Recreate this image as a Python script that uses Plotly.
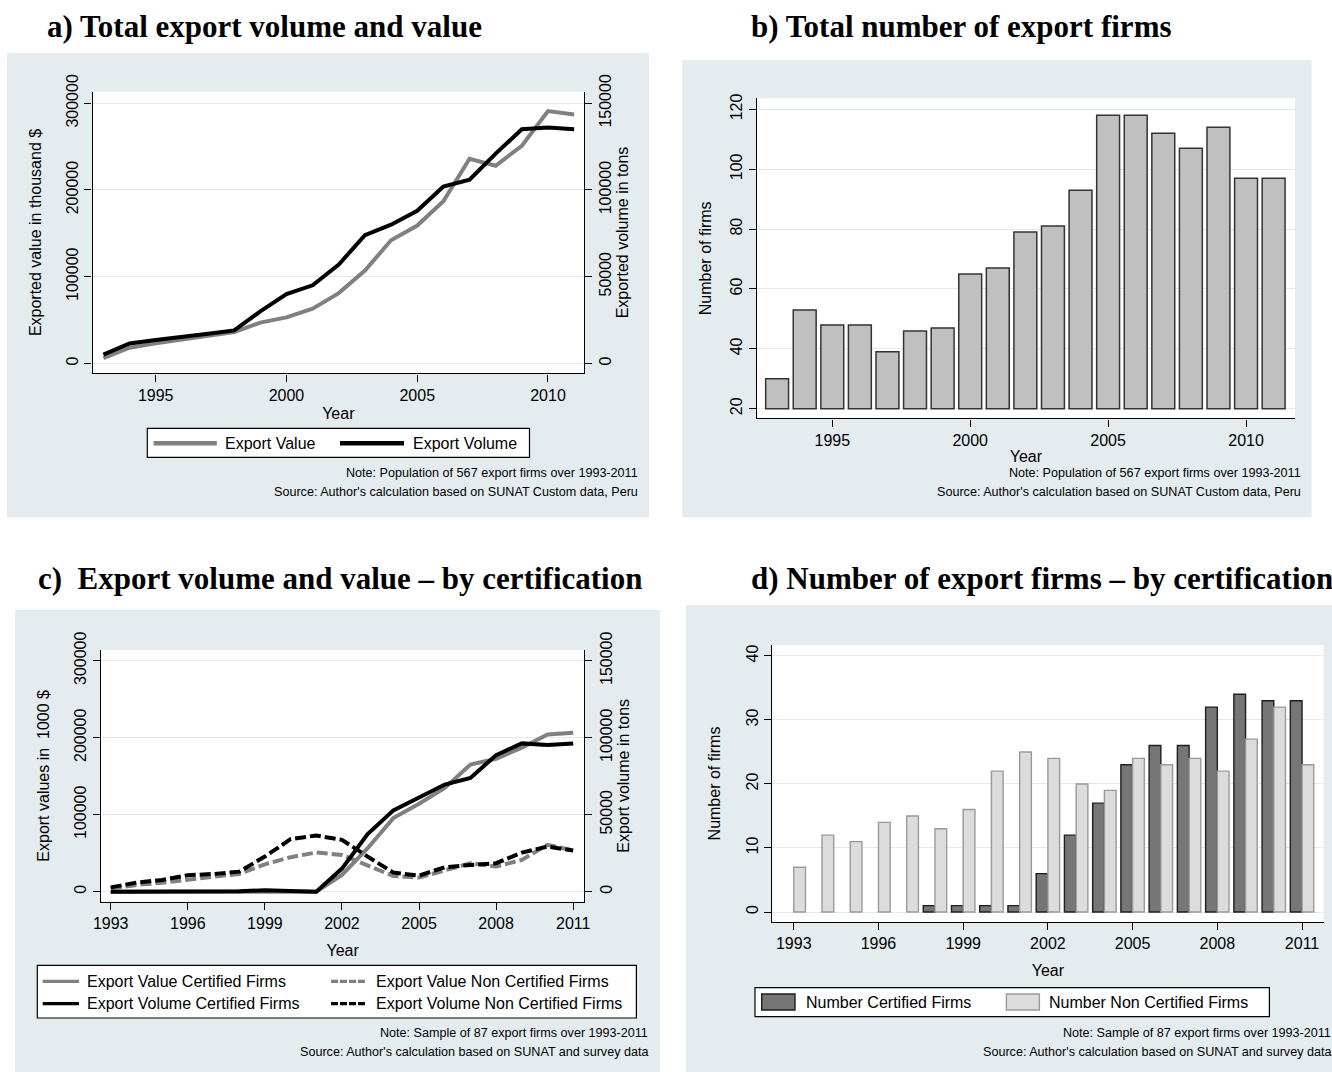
import plotly.graph_objects as go

# ---------------- data ----------------
years = [1993, 1994, 1995, 1996, 1997, 1998, 1999, 2000, 2001, 2002,
         2003, 2004, 2005, 2006, 2007, 2008, 2009, 2010, 2011]

# a) total export value (thousand $) and volume (tons)
export_value_total = [6000, 18000, 23000, 27000, 32000, 36000, 47000, 53000, 63000, 81000,
                      107000, 142000, 159000, 187000, 236000, 228000, 251000, 291000, 287000]
export_volume_total = [5000, 11500, 13500, 15000, 17000, 19000, 30000, 40000, 45000, 57000,
                       74000, 80000, 88000, 102000, 106000, 121000, 135000, 136000, 135000]

# b) total number of export firms
firms_total = [30, 53, 48, 48, 39, 46, 47, 65, 67, 79, 81, 93, 118, 118, 112, 107, 114, 97, 97]
firms_base = 20

# c) by certification
value_cert = [0, 0, 0, 0, 0, 0, 1000, 0, 0, 21700,
              56500, 95600, 114300, 134800, 165200, 172600, 187000, 204300, 206500]
value_noncert = [4300, 8700, 11700, 16000, 19600, 23000, 35600, 44800, 50900, 47800,
                 33900, 20400, 18300, 28300, 37000, 32600, 41300, 60900, 53500]
volume_cert = [0, 0, 0, 0, 0, 300, 900, 400, 0, 15000,
               37400, 52800, 60900, 69600, 73900, 88700, 96300, 95200, 96300]
volume_noncert = [2800, 5900, 7600, 10700, 11500, 13000, 22800, 34100, 36500, 33700,
                  22800, 12400, 10400, 15900, 17400, 18500, 25400, 29300, 26700]

# d) number of firms by certification
firms_cert = [0, 0, 0, 0, 0, 1, 1, 1, 1, 6, 12, 17, 23, 26, 26, 32, 34, 33, 33]
firms_noncert = [7, 12, 11, 14, 15, 13, 16, 22, 25, 24, 20, 19, 24, 23, 24, 22, 27, 32, 23]

# tick labels
ticks_a_x = [1995, 2000, 2005, 2010]
ticks_a_y = [0, 100000, 200000, 300000]
ticks_a_y2 = [0, 50000, 100000, 150000]
ticks_b_y = [20, 40, 60, 80, 100, 120]
ticks_c_x = [1993, 1996, 1999, 2002, 2005, 2008, 2011]
ticks_d_y = [0, 10, 20, 30, 40]

titles = ["a) Total export volume and value",
          "b) Total number of export firms",
          "c)\u00a0 Export volume and value \u2013 by certification",
          "d) Number of export firms \u2013 by certification"]
legend_a = ["Export Value", "Export Volume"]
legend_c = ["Export Value Certified Firms", "Export Value Non Certified Firms",
            "Export Volume Certified Firms", "Export Volume Non Certified Firms"]
legend_d = ["Number Certified Firms", "Number Non Certified Firms"]
note_pop = "Note: Population of 567 export firms over 1993-2011"
src_pop = "Source: Author's calculation based on SUNAT Custom data, Peru"
note_smp = "Note: Sample of 87 export firms over 1993-2011"
src_smp = "Source: Author's calculation based on SUNAT and survey data"

# ---------------- style ----------------
W, H = 1332, 1072
SANS = "Liberation Sans, Arial, sans-serif"
SERIF = "Liberation Serif, Times New Roman, serif"
BOX = "#e5ecef"
GRID = "#e2eaed"
GREY = "#808080"
LW = 4


def px(x):
    return x / W


def py(y):
    return 1 - y / H


fig = go.Figure()

# panel a
fig.add_trace(go.Scatter(x=years, y=export_value_total, mode="lines", name=legend_a[0],
                         line=dict(color=GREY, width=LW), xaxis="x", yaxis="y", showlegend=False))
fig.add_trace(go.Scatter(x=years, y=export_volume_total, mode="lines", name=legend_a[1],
                         line=dict(color="black", width=LW), xaxis="x", yaxis="y2", showlegend=False))

# panel b
fig.add_trace(go.Bar(x=years, y=[v - firms_base for v in firms_total], base=firms_base,
                     marker=dict(color="#c0c0c0", line=dict(color="#333333", width=1.5)),
                     xaxis="x2", yaxis="y3", showlegend=False, name="Number of firms"))

# panel c
DASH = "11px,4px"
fig.add_trace(go.Scatter(x=years, y=value_cert, mode="lines", name=legend_c[0],
                         line=dict(color=GREY, width=LW), xaxis="x3", yaxis="y4", showlegend=False))
fig.add_trace(go.Scatter(x=years, y=value_noncert, mode="lines", name=legend_c[1],
                         line=dict(color=GREY, width=LW, dash=DASH), xaxis="x3", yaxis="y4", showlegend=False))
fig.add_trace(go.Scatter(x=years, y=volume_cert, mode="lines", name=legend_c[2],
                         line=dict(color="black", width=LW), xaxis="x3", yaxis="y5", showlegend=False))
fig.add_trace(go.Scatter(x=years, y=volume_noncert, mode="lines", name=legend_c[3],
                         line=dict(color="black", width=LW, dash=DASH), xaxis="x3", yaxis="y5", showlegend=False))

# panel d (no outline on empty bars)
fig.add_trace(go.Bar(x=years, y=firms_cert, name=legend_d[0],
                     marker=dict(color="#767676",
                                 line=dict(color="#1e1e1e", width=[1.4 if v else 0 for v in firms_cert])),
                     xaxis="x4", yaxis="y6", showlegend=False))
fig.add_trace(go.Bar(x=years, y=firms_noncert, name=legend_d[1],
                     marker=dict(color="#dcdcdc",
                                 line=dict(color="#9a9a9a", width=[1.4 if v else 0 for v in firms_noncert])),
                     xaxis="x4", yaxis="y6", showlegend=False))

tickfont = dict(family=SANS, size=16, color="black")
titlefont = dict(family=SANS, size=16, color="black")


def xax(domain, anchor, rng, tickvals, standoff):
    return dict(domain=domain, anchor=anchor, range=rng, tickvals=tickvals, tickformat="d",
                ticks="outside", ticklen=7, tickwidth=1.2, tickcolor="black", automargin=False,
                showline=True, linecolor="black", linewidth=1.4, showgrid=False, zeroline=False,
                tickfont=tickfont, title=dict(text="Year", font=titlefont, standoff=standoff),
                fixedrange=True)


def yax(domain, anchor, rng, tickvals, title, standoff, side="left", overlay=None, grid=True):
    d = dict(anchor=anchor, range=rng, tickvals=tickvals, tickformat="d", tickangle=-90,
             ticks="outside", ticklen=7, tickwidth=1.2, tickcolor="black", automargin=False,
             showline=True, linecolor="black", linewidth=1.4, showgrid=grid, gridcolor=GRID,
             gridwidth=1.2, zeroline=False, tickfont=tickfont, side=side,
             title=dict(text=title, font=titlefont, standoff=standoff), fixedrange=True)
    if overlay:
        d["overlaying"] = overlay
    else:
        d["domain"] = domain
    return d


layout = dict(
    width=W, height=H, margin=dict(l=0, r=0, t=0, b=0, autoexpand=False),
    paper_bgcolor="white", plot_bgcolor="white",
    barmode="group", bargap=0.17, bargroupgap=0.0,
    showlegend=False,
    xaxis=xax([px(92.6), px(584)], "y", [1992.587, 2011.377], ticks_a_x, 5),
    yaxis=yax([py(373.3), py(91.7)], "x", [-11500, 313400], ticks_a_y,
              "Exported value in thousand $", 18),
    yaxis2=yax(None, "x", [-5750, 156700], ticks_a_y2, "Exported volume in tons", 0,
               side="right", overlay="y", grid=False),
    xaxis2=xax([px(756.7), px(1295)], "y3", [1992.26, 2011.775], ticks_a_x, 3),
    yaxis3=yax([py(418.3), py(98.3)], "x2", [16.8, 123.7], ticks_b_y, "Number of firms", 12),
    xaxis3=xax([px(101), px(584.2)], "y4", [1992.622, 2011.428], ticks_c_x, 13),
    yaxis4=yax([py(901.7), py(650)], "x3", [-13000, 313900], ticks_a_y,
               "Export values in \u00a01000 $", 18),
    yaxis5=yax(None, "x3", [-6500, 156950], ticks_a_y2, "Export volume in tons", 0,
               side="right", overlay="y4", grid=False),
    xaxis4=xax([px(772.3), px(1323.5)], "y6", [1992.24, 2011.76], ticks_c_x, 13),
    yaxis6=yax([py(922), py(645)], "x4", [-1.56, 41.7], ticks_d_y, "Number of firms", 19),
)
fig.update_layout(**layout)

shapes = []
# grey panel backgrounds
for (x0, y0, x1, y1) in [(7, 53, 649, 517.3), (682.3, 60, 1311.7, 517.3),
                         (15, 610, 660, 1072), (686, 605, 1332, 1072)]:
    shapes.append(dict(type="rect", xref="paper", yref="paper", layer="below",
                       x0=px(x0), x1=px(x1), y0=py(y1), y1=py(y0),
                       fillcolor=BOX, line=dict(width=0)))
# white plot areas
for xa, ya in [("x", "y"), ("x2", "y3"), ("x3", "y4"), ("x4", "y6")]:
    shapes.append(dict(type="rect", xref=xa + " domain", yref=ya + " domain", layer="below",
                       x0=0, x1=1, y0=0, y1=1, fillcolor="white", line=dict(width=0)))


def lbox(x0, y0, x1, y1):
    shapes.append(dict(type="rect", xref="paper", yref="paper", layer="above",
                       x0=px(x0), x1=px(x1), y0=py(y1), y1=py(y0),
                       fillcolor="white", line=dict(color="black", width=1.2)))


def lline(x0, x1, y, color, width, dash="solid"):
    shapes.append(dict(type="line", xref="paper", yref="paper", layer="above",
                       x0=px(x0), x1=px(x1), y0=py(y), y1=py(y),
                       line=dict(color=color, width=width, dash=dash)))


def lrect(x0, y0, x1, y1, fill, edge):
    shapes.append(dict(type="rect", xref="paper", yref="paper", layer="above",
                       x0=px(x0), x1=px(x1), y0=py(y1), y1=py(y0),
                       fillcolor=fill, line=dict(color=edge, width=1.4)))


annotations = []


def text(x, y, s, size=16, xanchor="left", family=SANS):
    annotations.append(dict(xref="paper", yref="paper", x=px(x), y=py(y), text=s,
                            showarrow=False, xanchor=xanchor, yanchor="middle",
                            font=dict(family=family, size=size, color="black")))


# legend a
lbox(147.3, 428.3, 529.5, 457.3)
lline(153.6, 216.8, 443.3, GREY, 4.5)
text(223, 443.3, legend_a[0])
lline(340, 404, 443.3, "black", 4.5)
text(410.5, 443.3, legend_a[1])

# legend c
lbox(37.3, 965.3, 636.4, 1018)
lline(42.7, 79, 981.3, GREY, 3.2)
text(85.3, 981.3, legend_c[0])
lline(331, 366, 981.3, GREY, 3.2, "7px,2px")
text(374, 981.3, legend_c[1])
lline(42.7, 79, 1003.7, "black", 3.2)
text(85.3, 1003.7, legend_c[2])
lline(331, 366, 1003.7, "black", 3.2, "7px,2px")
text(374, 1003.7, legend_c[3])

# legend d
lbox(755, 987.7, 1269.4, 1016.7)
lrect(761.7, 994, 795, 1010, "#767676", "#1e1e1e")
text(804, 1002.2, legend_d[0])
lrect(1006.4, 994, 1039.4, 1010, "#dcdcdc", "#9a9a9a")
text(1047, 1002.2, legend_d[1])

# notes
NS = 12.6
text(640, 473, note_pop, NS, "right")
text(640, 491.5, src_pop, NS, "right")
text(1303, 473, note_pop, NS, "right")
text(1303, 491.5, src_pop, NS, "right")
text(650, 1033, note_smp, NS, "right")
text(650, 1052, src_smp, NS, "right")
text(1333, 1033, note_smp, NS, "right")
text(1333, 1052, src_smp, NS, "right")

# panel titles
text(45, 26.5, "<b>" + titles[0] + "</b>", 31, family=SERIF)
text(749, 26.5, "<b>" + titles[1] + "</b>", 31, family=SERIF)
text(36, 578, "<b>" + titles[2] + "</b>", 31, family=SERIF)
text(749, 578, "<b>" + titles[3] + "</b>", 31, family=SERIF)

fig.update_layout(shapes=shapes, annotations=annotations)
fig.write_html("out.html")
